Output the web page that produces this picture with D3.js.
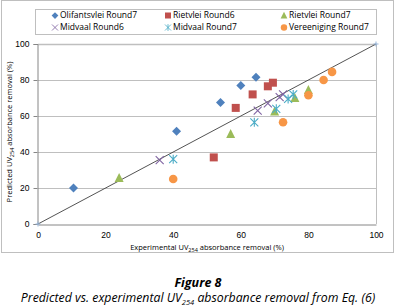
<!DOCTYPE html>
<html>
<head>
<meta charset="utf-8">
<script src="https://cdn.jsdelivr.net/npm/d3@7"></script>
<style>
  body { margin: 0; background: #fff; }
  svg { font-family: "Open Sans", "Noto Sans", sans-serif; }
</style>
</head>
<body>
<div id="chart"></div>
<script>
// chart size
var width = 396;
var height = 308;
var margin = { top: 44, right: 20, bottom: 84, left: 38 };

// data: [experimental, predicted]
var olifantsvlei7 = [[10.5, 20], [41, 51.5], [54, 67.5], [60, 77], [64.5, 81.5]];
var rietvlei6 = [[52, 37], [58.5, 64.5], [63.5, 72], [68, 76.5], [69.5, 78.5]];
var rietvlei7 = [[24, 25.5], [57, 50], [70, 62.5], [76, 70], [80, 74.5]];
var midvaal6 = [[36, 35.5], [65, 63], [68, 67], [71.5, 70.5], [72.5, 72]];
var midvaal7 = [[40, 36], [64, 56.5], [70.5, 64], [74, 69.5], [75.5, 72]];
var vereeniging7 = [[40, 25], [72.5, 56.5], [80, 71.5], [84.5, 80], [87, 84.5]];
var parityLine = [[0, 0], [100, 100]];

var seriesNames = ["Olifantsvlei Round7", "Rietvlei Round6", "Rietvlei Round7",
                   "Midvaal Round6", "Midvaal Round7", "Vereeniging Round7"];
var ticks = [0, 20, 40, 60, 80, 100];

var series = [
    { name: seriesNames[0], data: olifantsvlei7, color: "#4F81BD", shape: "diamond" },
    { name: seriesNames[1], data: rietvlei6, color: "#C0504D", shape: "square" },
    { name: seriesNames[2], data: rietvlei7, color: "#9BBB59", shape: "triangle" },
    { name: seriesNames[3], data: midvaal6, color: "#8064A2", shape: "x" },
    { name: seriesNames[4], data: midvaal7, color: "#4BACC6", shape: "star" },
    { name: seriesNames[5], data: vereeniging7, color: "#F79646", shape: "circle" }
];

var svg = d3.select("#chart").append("svg")
    .attr("width", width)
    .attr("height", height);

// outer chart border
svg.append("rect")
    .attr("x", 1.5).attr("y", 0.5)
    .attr("width", 392).attr("height", 252)
    .attr("fill", "none")
    .attr("stroke", "#bfbfbf");

var x = d3.scaleLinear().domain([0, 100]).range([margin.left, width - margin.right]);
var y = d3.scaleLinear().domain([0, 100]).range([height - margin.bottom, margin.top]);

// grid lines
svg.append("g").selectAll("line")
    .data(ticks.slice(1))
    .enter().append("line")
    .attr("x1", x(0)).attr("x2", x(100))
    .attr("y1", function(d) { return y(d) + 0.5; })
    .attr("y2", function(d) { return y(d) + 0.5; })
    .attr("stroke", "#bfbfbf")
    .attr("stroke-width", function(d) { return d == 100 ? 1.5 : 1; });

// right edge of plot
svg.append("line")
    .attr("x1", x(100) + 0.5).attr("x2", x(100) + 0.5)
    .attr("y1", y(100)).attr("y2", y(0))
    .attr("stroke", "#bfbfbf");

// axes
var xAxis = svg.append("g")
    .attr("transform", "translate(0," + (y(0) + 0.5) + ")")
    .call(d3.axisBottom(x).tickValues(ticks).tickSize(0).tickPadding(7));
var yAxis = svg.append("g")
    .attr("transform", "translate(" + (x(0) - 0.5) + ",0)")
    .call(d3.axisLeft(y).tickValues(ticks).tickSize(4).tickPadding(4));

[xAxis, yAxis].forEach(function(a) {
    a.selectAll(".domain").attr("stroke", "#868686");
    a.selectAll(".tick line").attr("stroke", "#868686");
    a.selectAll("text").attr("font-size", 8.5).attr("fill", "#000");
});

// parity line
var line = d3.line()
    .x(function(d) { return x(d[0]); })
    .y(function(d) { return y(d[1]); });
svg.append("path")
    .datum(parityLine)
    .attr("d", line)
    .attr("fill", "none")
    .attr("stroke", "#404040")
    .attr("stroke-width", 0.9);
svg.selectAll(".endMark")
    .data(parityLine)
    .enter().append("path")
    .attr("class", "endMark")
    .attr("transform", function(d) { return "translate(" + x(d[0]) + "," + y(d[1]) + ")"; })
    .attr("d", "M-2.5,0L2.5,0M0,-2.5L0,2.5")
    .attr("stroke", "#95B3D7")
    .attr("stroke-width", 1);

// marker drawing
function drawMarker(g, shape, color) {
    if (shape == "diamond") {
        g.append("path").attr("d", "M0,-4.5L4.5,0L0,4.5L-4.5,0Z").attr("fill", color);
    } else if (shape == "square") {
        g.append("rect").attr("x", -4).attr("y", -4).attr("width", 8).attr("height", 8).attr("fill", color);
    } else if (shape == "triangle") {
        g.append("path").attr("d", "M0,-5L4.5,4L-4.5,4Z").attr("fill", color);
    } else if (shape == "circle") {
        g.append("circle").attr("r", 4.3).attr("fill", color);
    } else if (shape == "x") {
        g.append("path").attr("d", "M-4,-4L4,4M-4,4L4,-4").attr("stroke", color).attr("stroke-width", 1.1);
    } else if (shape == "star") {
        g.append("path").attr("d", "M-4,-4L4,4M-4,4L4,-4M0,-4.5L0,4.5")
            .attr("stroke", color).attr("stroke-width", 1.1);
    }
}

series.forEach(function(s) {
    svg.append("g").selectAll("g")
        .data(s.data)
        .enter().append("g")
        .attr("transform", function(d) { return "translate(" + x(d[0]) + "," + y(d[1]) + ")"; })
        .each(function() { drawMarker(d3.select(this), s.shape, s.color); });
});

// legend
svg.append("rect")
    .attr("x", 35.5).attr("y", 9.5)
    .attr("width", 341).attr("height", 25)
    .attr("fill", "#fff")
    .attr("stroke", "#bfbfbf");

var legendCols = [55, 168, 284];
var legendRows = [15.5, 27.5];
series.forEach(function(s, i) {
    var col = i % 3;
    var row = Math.floor(i / 3);
    var g = svg.append("g")
        .attr("transform", "translate(" + legendCols[col] + "," + legendRows[row] + ")");
    var m = g.append("g").attr("transform", "scale(0.75)");
    drawMarker(m, s.shape, s.color);
    g.append("text")
        .attr("x", 5)
        .attr("dy", "0.35em")
        .attr("font-size", 8.5)
        .text(s.name);
});

// axis titles
var xt = svg.append("text")
    .attr("x", 207)
    .attr("y", 250)
    .attr("text-anchor", "middle")
    .attr("font-size", 7.5);
xt.append("tspan").text("Experimental UV");
xt.append("tspan").attr("font-size", 5.5).attr("dy", 2).text("254");
xt.append("tspan").attr("dy", -2).text(" absorbance removal (%)");

var yt = svg.append("text")
    .attr("transform", "translate(12," + 132 + ") rotate(-90)")
    .attr("text-anchor", "middle")
    .attr("font-size", 7.5);
yt.append("tspan").text("Predicted UV");
yt.append("tspan").attr("font-size", 5.5).attr("dy", 2).text("254");
yt.append("tspan").attr("dy", -2).text(" absorbance removal (%)");

// caption
svg.append("text")
    .attr("x", width / 2)
    .attr("y", 287)
    .attr("text-anchor", "middle")
    .attr("font-size", 12.5)
    .attr("font-weight", "bold")
    .attr("font-style", "italic")
    .text("Figure 8");
var cap = svg.append("text")
    .attr("x", width / 2)
    .attr("y", 302)
    .attr("text-anchor", "middle")
    .attr("font-size", 12.3)
    .attr("font-style", "italic");
cap.append("tspan").text("Predicted vs. experimental UV");
cap.append("tspan").attr("font-size", 7.5).attr("dy", 2.5).text("254");
cap.append("tspan").attr("dy", -2.5).text(" absorbance removal from Eq. (6)");
</script>
</body>
</html>
